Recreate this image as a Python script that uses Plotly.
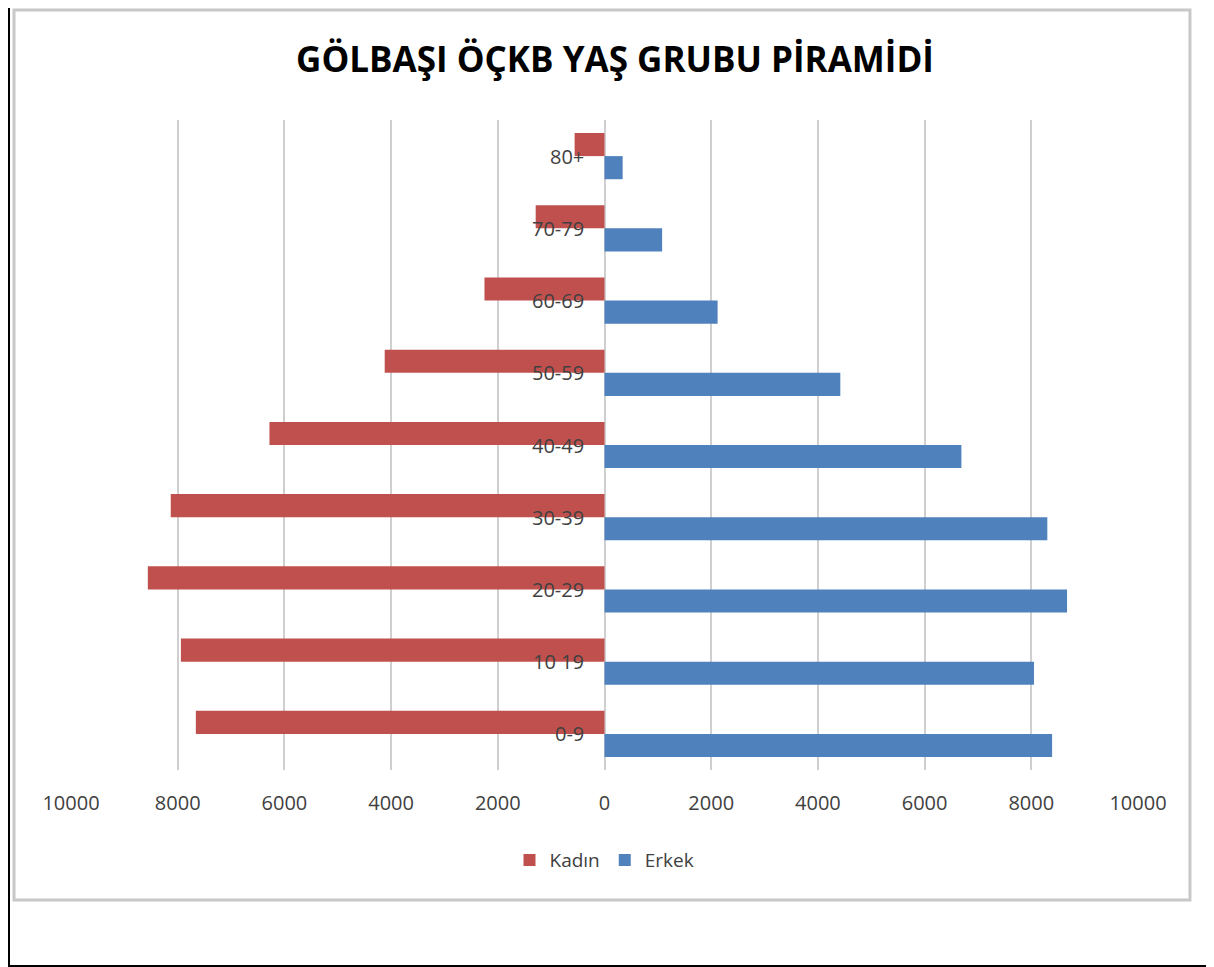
import plotly.graph_objects as go

yas_gruplari = ["0-9", "10 19", "20-29", "30-39", "40-49", "50-59", "60-69", "70-79", "80+"]
kadin = [7660, 7940, 8560, 8130, 6280, 4120, 2250, 1290, 560]
erkek = [8390, 8050, 8670, 8300, 6690, 4420, 2120, 1080, 340]
tick_degerleri = [-10000, -8000, -6000, -4000, -2000, 0, 2000, 4000, 6000, 8000, 10000]
tick_yazilari = ["10000", "8000", "6000", "4000", "2000", "0", "2000", "4000", "6000", "8000", "10000"]

font_adi = "Open Sans, sans-serif"

# Erkek first so that it sits below Kadin inside each group
fig = go.Figure(data=[
    go.Bar(name="Erkek", y=yas_gruplari, x=erkek, orientation="h", marker_color="#4F81BD"),
    go.Bar(name="Kadın", y=yas_gruplari, x=[-v for v in kadin], orientation="h", marker_color="#C0504D"),
])
fig.update_traces(marker_line_width=0)

# category labels sit next to the zero line, like Excel does
for g in yas_gruplari:
    fig.add_annotation(x=0, y=g, xref="x", yref="y", text=g, showarrow=False,
                       xanchor="right", xshift=-19, font=dict(size=20, color="#404040", family=font_adi))

# chart frames
fig.add_shape(type="rect", xref="paper", yref="paper", x0=-0.0581, x1=1.0694, y0=-0.3015, y1=1.1831,
              line=dict(color="#000000", width=2), layer="below")
fig.add_shape(type="rect", xref="paper", yref="paper", x0=-0.0534, x1=1.0487, y0=-0.2, y1=1.1692,
              line=dict(color="#c8c8c8", width=3), layer="below")

fig.update_layout(
    width=1214, height=967,
    margin=dict(l=63, r=84, t=112, b=205),
    paper_bgcolor="white", plot_bgcolor="white",
    barmode="group", bargap=0.36, bargroupgap=0,
    title=dict(text="<b>GÖLBAŞI ÖÇKB YAŞ GRUBU PİRAMİDİ</b>", x=0.5, xanchor="center",
               y=0.946, yanchor="middle", font=dict(size=35, color="#000000", family=font_adi)),
    legend=dict(orientation="h", x=0.5, xanchor="center", y=-0.1385, yanchor="middle",
                traceorder="reversed", itemwidth=30,
                font=dict(size=19, color="#404040", family=font_adi)),
    font=dict(family=font_adi),
)
fig.update_xaxes(range=[-10000, 10000], tickvals=tick_degerleri, ticktext=tick_yazilari,
                 showgrid=True, gridcolor="#cfcfcf", gridwidth=2, zeroline=True,
                 zerolinecolor="#cfcfcf", zerolinewidth=2, showline=False, ticks="",
                 tickfont=dict(size=20, color="#404040", family=font_adi), ticklabelstandoff=19)
fig.update_yaxes(range=[-0.5, 8.5], showticklabels=False, showgrid=False, zeroline=False, showline=False)

fig.write_html("out.html")
